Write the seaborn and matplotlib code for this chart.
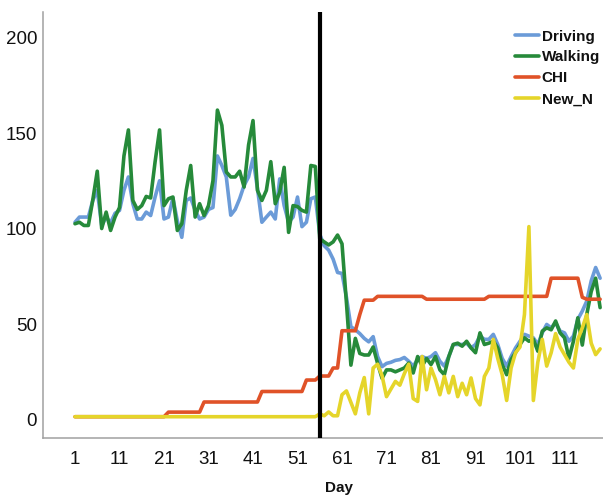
import numpy as np
import pandas as pd
import matplotlib
matplotlib.use("Agg")
import matplotlib.pyplot as plt
import seaborn as sns

# day index 1..119
days = list(range(1, 120))

driving = [103.3, 106, 106, 106, 114.7, 120, 101.6, 106, 103, 108,
           109.5, 120, 127, 113, 105, 105, 108.6, 106.8, 116.5, 125,
           105, 106, 116, 104, 95.4, 114.7, 116, 109.5, 105, 106,
           110, 111, 138, 133, 127, 107, 110, 115.6, 122.6, 127,
           136.7, 121, 103.3, 106, 108.6, 105, 126, 112, 103.3, 106,
           116.5, 101, 103.3, 115.6, 116.5, 97, 91, 88.7, 84, 77,
           76.5, 64, 48.6, 47, 45, 42.5, 40.7, 43.4, 33, 27.7,
           29.4, 30, 31, 31.4, 32.5, 30.5, 28, 31.4, 33, 32,
           33, 35, 30.5, 28, 33, 39.3, 39.3, 39.3, 40, 37.5,
           39.3, 43.7, 42, 42, 44.6, 39.3, 32, 28, 33, 37.5,
           41, 44.6, 43.7, 42.8, 39.3, 45.4, 49.8, 48, 50.7, 46.3,
           45.4, 41, 43.7, 52.5, 56.8, 62, 72.6, 79.6, 74]

walking = [102.5, 103.3, 101.6, 101.6, 115, 130, 100, 108.6, 99, 106,
           111, 138, 151.6, 114.7, 110, 112, 116.8, 116, 135, 151.6,
           112, 115.6, 116.5, 99, 102.5, 120, 133, 106, 113, 106.8,
           112, 125, 162, 154, 129.6, 127, 127, 130, 121.7, 143.7,
           156.5, 120, 114.7, 120, 135, 113, 119, 132, 98, 112,
           111.5, 109.5, 108.6, 133, 132.5, 94.6, 93, 91.4, 93, 96.6,
           92, 61, 28.5, 42.5, 34.6, 33.8, 33.8, 38, 29.4, 21.6,
           26, 26, 25, 26, 27, 29.6, 24.4, 33, 28, 32,
           28.8, 33, 26, 23.5, 33, 39.3, 40, 38.4, 41, 37.5,
           35, 45.4, 39.3, 40, 41, 37.5, 28.8, 23.5, 31.4, 35,
           39.3, 42.8, 41, 42, 35.8, 46.3, 48, 47, 51.6, 45.4,
           42.8, 32, 41, 53.3, 39, 55, 67, 74, 58.6]

chi = [1.5, 1.5, 1.5, 1.5, 1.5, 1.5, 1.5, 1.5, 1.5, 1.5,
       1.5, 1.5, 1.5, 1.5, 1.5, 1.5, 1.5, 1.5, 1.5, 1.5,
       1.5, 3.9, 3.9, 3.9, 3.9, 3.9, 3.9, 3.9, 3.9, 9.2,
       9.2, 9.2, 9.2, 9.2, 9.2, 9.2, 9.2, 9.2, 9.2, 9.2,
       9.2, 9.2, 14.7, 14.7, 14.7, 14.7, 14.7, 14.7, 14.7, 14.7,
       14.7, 14.7, 20.7, 20.7, 20.7, 22.8, 22.8, 22.8, 27, 27,
       46.5, 46.5, 46.5, 46.5, 55, 62.5, 62.5, 62.5, 64.5, 64.5,
       64.5, 64.5, 64.5, 64.5, 64.5, 64.5, 64.5, 64.5, 64.5, 63,
       63, 63, 63, 63, 63, 63, 63, 63, 63, 63,
       63, 63, 63, 64.5, 64.5, 64.5, 64.5, 64.5, 64.5, 64.5,
       64.5, 64.5, 64.5, 64.5, 64.5, 64.5, 64.5, 74, 74, 74,
       74, 74, 74, 74, 64, 63, 63, 63, 63]

new_n = [1.5, 1.5, 1.5, 1.5, 1.5, 1.5, 1.5, 1.5, 1.5, 1.5,
         1.5, 1.5, 1.5, 1.5, 1.5, 1.5, 1.5, 1.5, 1.5, 1.5,
         1.5, 1.5, 1.5, 1.5, 1.5, 1.5, 1.5, 1.5, 1.5, 1.5,
         1.5, 1.5, 1.5, 1.5, 1.5, 1.5, 1.5, 1.5, 1.5, 1.5,
         1.5, 1.5, 1.5, 1.5, 1.5, 1.5, 1.5, 1.5, 1.5, 1.5,
         1.5, 1.5, 1.5, 1.5, 1.5, 3, 2, 4, 2, 2,
         13, 15, 9, 3, 14, 22, 3, 27, 29, 23,
         12, 16, 20, 18, 24, 29, 11, 9.5, 33, 15.6,
         27, 21, 13, 22.6, 14, 22.6, 12, 19, 13, 21.8,
         11, 7.7, 22.6, 27, 42, 32, 23.5, 10, 27, 35,
         38, 55, 101, 10, 30, 42, 28, 35, 45, 38,
         34, 30, 27, 42, 48, 55, 40, 34, 37]

series_names = ["Driving", "Walking", "CHI", "New_N"]
x_ticks = [1, 11, 21, 31, 41, 51, 61, 71, 81, 91, 101, 111]
y_ticks = [0, 50, 100, 150, 200]
break_day = 56

colors = {"Driving": "#6b9bd8", "Walking": "#268a3a",
          "CHI": "#e05228", "New_N": "#e5d52a"}

df = pd.DataFrame({"Day": days, "Driving": driving, "Walking": walking,
                   "CHI": chi, "New_N": new_n})
long_df = df.melt(id_vars="Day", var_name="series", value_name="value")

sns.set_style("white")
plt.rcParams["font.family"] = ["Liberation Sans", "DejaVu Sans"]

fig = plt.figure(figsize=(6.03, 5.0), dpi=100)
ax = fig.add_axes([0.0708, 0.1234, 0.9292, 0.8532])

sns.lineplot(data=long_df, x="Day", y="value", hue="series",
             hue_order=series_names, palette=colors, linewidth=2.6,
             errorbar=None, ax=ax)
ax.axvline(break_day, color="black", linewidth=3.0, zorder=5)

ax.set_xlim(-6.26, 119.65)
ax.set_ylim(-9.8, 213.5)
ax.set_xticks(x_ticks)
ax.set_yticks(y_ticks)
ax.tick_params(axis="both", length=0, labelsize=13.5, labelcolor="#111111")
ax.tick_params(axis="x", pad=9)
ax.tick_params(axis="y", pad=4)
ax.set_ylabel("")
ax.set_xlabel("Day", fontsize=11, fontweight="bold", color="#111111")
ax.xaxis.set_label_coords(0.5297, -0.100)

for side in ["top", "right"]:
    ax.spines[side].set_visible(False)
for side in ["left", "bottom"]:
    ax.spines[side].set_color("#a0a0a0")
    ax.spines[side].set_linewidth(1.1)

handles, labels = ax.get_legend_handles_labels()
leg = ax.legend(handles, labels, frameon=False, loc="upper left",
                bbox_to_anchor=(0.843, 0.958), borderpad=0, borderaxespad=0,
                prop={"size": 11, "weight": "bold"}, handlelength=1.55,
                handletextpad=0.2, labelspacing=0.45)
for t in leg.get_texts():
    t.set_color("#111111")

fig.savefig("out.png", dpi=100)
